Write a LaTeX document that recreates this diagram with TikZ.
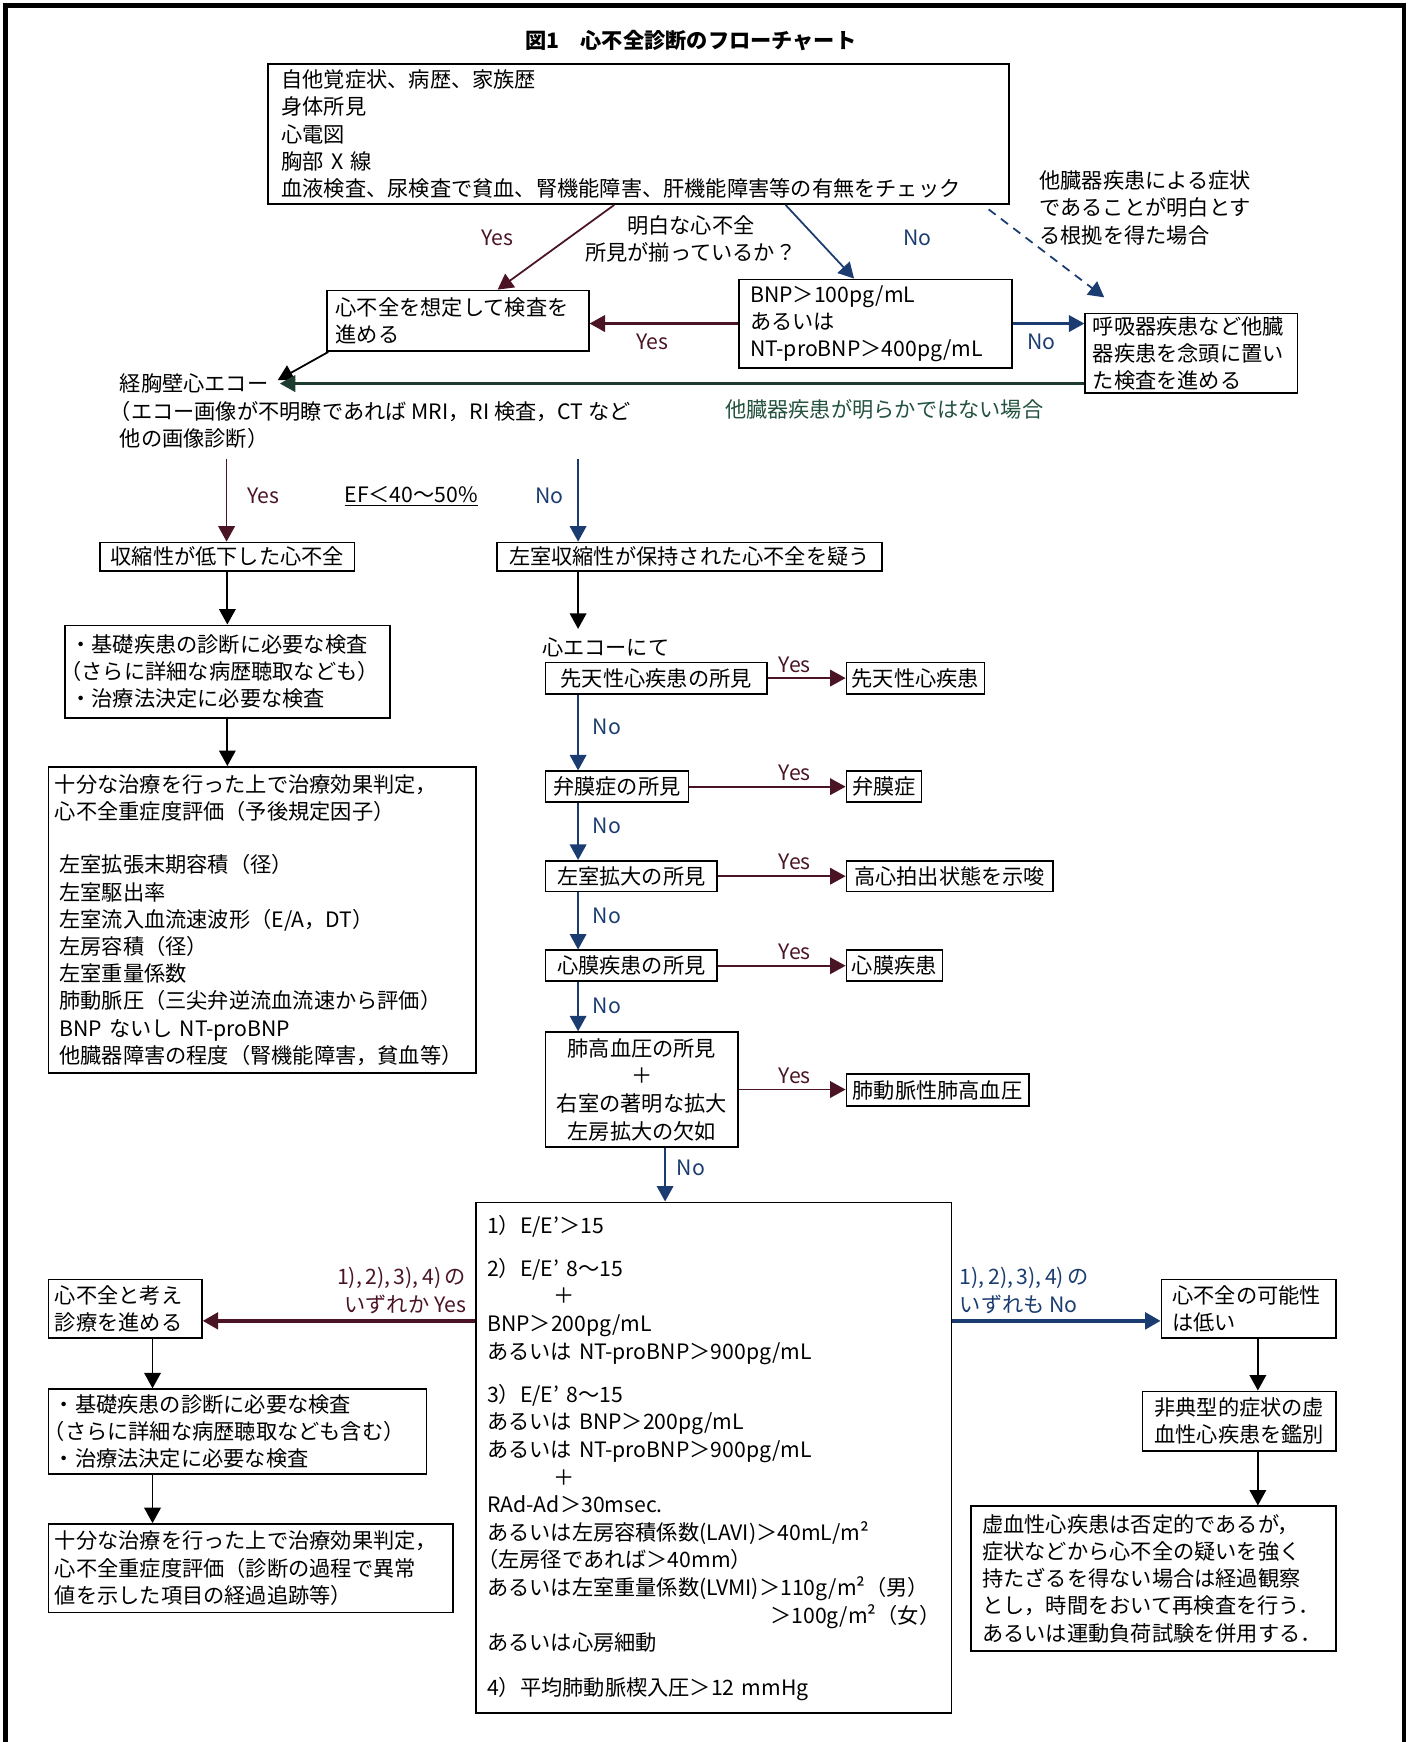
\documentclass[tikz,border=0pt]{standalone}
\usepackage{fontspec}
\setmainfont{Noto Sans CJK JP}
\usepackage{tikz}
\usetikzlibrary{arrows.meta}

\definecolor{yescol}{HTML}{4A1424}
\definecolor{nocol}{HTML}{1B3C70}
\definecolor{grncol}{HTML}{23523F}
\definecolor{grnline}{HTML}{1E3B30}
\newcommand\lpar{\hspace*{-4.5pt}（}

\begin{document}
\begin{tikzpicture}[x=1pt,y=-1pt,
   every node/.style={font=\fontsize{9.6}{12.3}\selectfont},
   box/.style={draw,line width=.7pt,anchor=north west,inner xsep=4pt,inner ysep=.5pt,align=left},
   bx/.style 2 args={box,minimum width=#1pt,minimum height=#2pt,
      text width=#1pt-2*\pgfkeysvalueof{/pgf/inner xsep}},
   cbx/.style 2 args={bx={#1}{#2},align=center,inner xsep=1pt},
   txt/.style={anchor=west,inner sep=0pt,align=left},
   arr/.style={-{Triangle[length=7pt,width=7.5pt]},line width=.8pt},
   yarr/.style={arr,color=yescol},
   narr/.style={arr,color=nocol},
   karr/.style={arr,color=black},
   ylab/.style={text=yescol},
   nlab/.style={text=nocol}]
   \useasboundingbox (0,0) rectangle (640,788);
   \draw[line width=2pt] (2.5,800) -- (2.5,2.5) -- (635,2.5) -- (635,800);

   \node[font=\bfseries\fontsize{9.6}{12}\selectfont] (title) at (312.5,18.5) {図1　心不全診断のフローチャート};

   % top part
   \node[bx={335}{63.5},inner xsep=6pt] (hist) at (121,28.5) {自他覚症状、病歴、家族歴\\身体所見\\心電図\\胸部 X 線\\血液検査、尿検査で貧血、腎機能障害、肝機能障害等の有無をチェック};
   \node[align=center,inner sep=0pt] (ask) at (312.5,108) {明白な心不全\\所見が揃っているか？};
   \node[bx={118.5}{27.5}] (assume) at (147.5,131) {心不全を想定して検査を\\進める};
   \node[bx={123.5}{40},inner xsep=5pt] (bnp) at (334,126) {BNP＞100pg/mL\\あるいは\\NT-proBNP＞400pg/mL};
   \node[bx={96}{36},inner xsep=3.5pt] (resp) at (490.5,141.5) {呼吸器疾患など他臓\\器疾患を念頭に置い\\た検査を進める};
   \node[txt] (otherlbl) at (470,94) {他臓器疾患による症状\\であることが明白とす\\る根拠を得た場合};
   \node[txt] (echo) at (54,173.5) {経胸壁心エコー};
   \node[txt] (echonote) at (54,192.25) {\lpar エコー画像が不明瞭であれば MRI，RI 検査，CT など\\他の画像診断）};
   \node[text=grncol] (notclear) at (400,185) {他臓器疾患が明らかではない場合};
   \node[ylab] (yes0) at (225,107.5) {Yes};
   \node[nlab] (no0) at (415,107.5) {No};
   \node[ylab] (yes1) at (295,154.5) {Yes};
   \node[nlab] (no1) at (471,154.5) {No};

   \draw[yarr] ([xshift=-11pt]hist.south) -- ([xshift=18pt]assume.north);
   \draw[narr] ([xshift=66.5pt]hist.south) -- ([xshift=-9.75pt]bnp.north);
   \draw[narr,dashed,dash pattern=on 4pt off 3pt] ([xshift=-9.5pt,yshift=-2pt]hist.south east) -- ([xshift=9pt,yshift=7pt]resp.north west);
   \draw[yarr,line width=1pt] (bnp.west) -- (bnp.west -| assume.east);
   \draw[narr,line width=1pt] (bnp.east) -- (bnp.east -| resp.west);
   \draw[karr] ([xshift=1pt]assume.south west) -- ([xshift=4pt,yshift=1.5pt]echo.east);
   \draw[arr,color=grnline,line width=1pt] (resp.west |- echo.east) -- ([xshift=5pt]echo.east);

   % EF split
   \coordinate (efY) at (102.5,207.5);
   \coordinate (colx) at (261.5,207.5);
   \node[ylab] (yes2) at (119,224.5) {Yes};
   \node (ef) at (186,224.5) {\underline{EF＜40～50\%}};
   \node[nlab] (no2) at (248.5,224.5) {No};
   \node[cbx={115}{13}] (sys) at (45,245) {収縮性が低下した心不全};
   \node[cbx={174}{13}] (pres) at (224.5,245) {左室収縮性が保持された心不全を疑う};
   \draw[yarr] (efY) -- (efY |- sys.north);
   \draw[narr] (colx) -- (colx |- pres.north);

   % left column
   \node[bx={147}{42},inner xsep=2.5pt] (basic) at (29,282.5) {・基礎疾患の診断に必要な検査\\\lpar さらに詳細な病歴聴取なども）\\・治療法決定に必要な検査};
   \node[bx={193.5}{138.5},inner xsep=3pt] (eval) at (21.5,346.5) {十分な治療を行った上で治療効果判定，\\心不全重症度評価（予後規定因子）\\[12pt]
      \hspace*{2pt}左室拡張末期容積（径）\\\hspace*{2pt}左室駆出率\\\hspace*{2pt}左室流入血流速波形（E/A，DT）\\\hspace*{2pt}左房容積（径）\\\hspace*{2pt}左室重量係数\\\hspace*{2pt}肺動脈圧（三尖弁逆流血流速から評価）\\\hspace*{2pt}BNP ないし NT-proBNP\\\hspace*{2pt}他臓器障害の程度（腎機能障害，貧血等）};
   \draw[karr] (sys.south) -- (sys.south |- basic.north);
   \draw[karr] (sys.south |- basic.south) -- (sys.south |- eval.north);

   % right column
   \node[txt] (echo2) at (245,293) {心エコーにて};
   \node[cbx={100}{14.25}] (find1) at (246.5,299.25) {先天性心疾患の所見};
   \node[cbx={64.5}{14}] (find2) at (246.5,348.5) {弁膜症の所見};
   \node[cbx={77.5}{14}] (find3) at (246.5,389) {左室拡大の所見};
   \node[cbx={77.5}{14}] (find4) at (246.5,429.5) {心膜疾患の所見};
   \node[cbx={87}{52},font=\fontsize{9.6}{12.5}\selectfont] (find5) at (246.5,466.5) {肺高血圧の所見\\＋\\右室の著明な拡大\\左房拡大の欠如};
   \node[cbx={62.5}{14.25}] (res1) at (382.5,299.25) {先天性心疾患};
   \node[cbx={34}{14}] (res2) at (382.5,348.5) {弁膜症};
   \node[cbx={93.5}{14}] (res3) at (382.5,389) {高心拍出状態を示唆};
   \node[cbx={43.5}{14}] (res4) at (382.5,429.5) {心膜疾患};
   \node[cbx={82.5}{14.5}] (res5) at (382.5,485.5) {肺動脈性肺高血圧};
   \draw[karr,shorten >=4pt] (colx |- pres.south) -- (colx |- echo2.north);
   \foreach \i/\j in {1/2,2/3,3/4,4/5}
      \draw[narr] (colx |- find\i.south) -- (colx |- find\j.north);
   \foreach \i in {1,...,5}
      \draw[yarr] (find\i.east) -- (find\i.east -| res\i.west);
   \foreach \i/\y in {1/300.75,2/349.5,3/390,4/430.5,5/486.5}
      \node[ylab] (yes3\i) at (359.5,\y) {Yes};
   \foreach \i/\y in {1/328.75,2/373.5,3/414.5,4/455}
      \node[nlab] (no3\i) at (274.5,\y) {No};
   \node[nlab] (no35) at (312.5,528.5) {No};

   % criteria box
   \node[bx={215}{231},inner xsep=5pt,font=\fontsize{9.6}{12.5}\selectfont] (crit) at (215,543.5) {1）E/E’＞15\\[7pt]
      2）E/E’ 8～15\\\hspace*{30pt}＋\\BNP＞200pg/mL\\あるいは NT-proBNP＞900pg/mL\\[7pt]
      3）E/E’ 8～15\\あるいは BNP＞200pg/mL\\あるいは NT-proBNP＞900pg/mL\\\hspace*{30pt}＋\\RAd-Ad＞30msec.\\あるいは左房容積係数(LAVI)＞40mL/m²\\\lpar 左房径であれば＞40mm）\\あるいは左室重量係数(LVMI)＞110g/m²（男）\\\hfill＞100g/m²（女）\\あるいは心房細動\\[7.5pt]
      4）平均肺動脈楔入圧＞12 mmHg};
   \coordinate (k5) at ([xshift=10.5pt]find5.south);
   \draw[narr] (k5) -- (k5 |- crit.north);

   % bottom left
   \node[bx={69.5}{26.5},inner xsep=3pt] (hf) at (21.5,578.5) {心不全と考え\\診療を進める};
   \node[bx={171}{38.5},inner xsep=2.5pt] (basic2) at (21.5,628) {・基礎疾患の診断に必要な検査\\\lpar さらに詳細な病歴聴取なども含む）\\・治療法決定に必要な検査};
   \node[bx={183}{40},inner xsep=3pt] (eval2) at (21.5,689) {十分な治療を行った上で治療効果判定，\\心不全重症度評価（診断の過程で異常\\値を示した項目の経過追跡等）};
   \coordinate (kmid) at (0,597.5);
   \coordinate (lx) at (69,0);
   \draw[yarr,line width=1.6pt] (crit.west |- kmid) -- (hf.east |- kmid);
   \node[ylab,anchor=east,align=right,inner sep=0pt] (anyyes) at (211,583.75) {1),\,2),\,3),\,4)\,の\\いずれか Yes};
   \draw[karr] (lx |- hf.south) -- (lx |- basic2.north);
   \draw[karr] (lx |- basic2.south) -- (lx |- eval2.north);

   % bottom right
   \node[bx={79}{26.5},inner xsep=5pt] (low) at (525,578.5) {心不全の可能性\\は低い};
   \node[cbx={87.5}{27}] (atyp) at (516.5,629) {非典型的症状の虚\\血性心疾患を鑑別};
   \node[bx={165}{65.5},inner xsep=5pt] (ihd) at (439,681) {虚血性心疾患は否定的であるが，\\症状などから心不全の疑いを強く\\持たざるを得ない場合は経過観察\\とし，時間をおいて再検査を行う．\\あるいは運動負荷試験を併用する．};
   \coordinate (rx) at (569,0);
   \draw[narr,line width=1.6pt] (crit.east |- kmid) -- (low.west |- kmid);
   \node[nlab,anchor=west,align=left,inner sep=0pt] (allno) at (434,583.75) {1),\,2),\,3),\,4)\,の\\いずれも No};
   \draw[karr] (rx |- low.south) -- (rx |- atyp.north);
   \draw[karr] (rx |- atyp.south) -- (rx |- ihd.north);
\end{tikzpicture}
\end{document}
